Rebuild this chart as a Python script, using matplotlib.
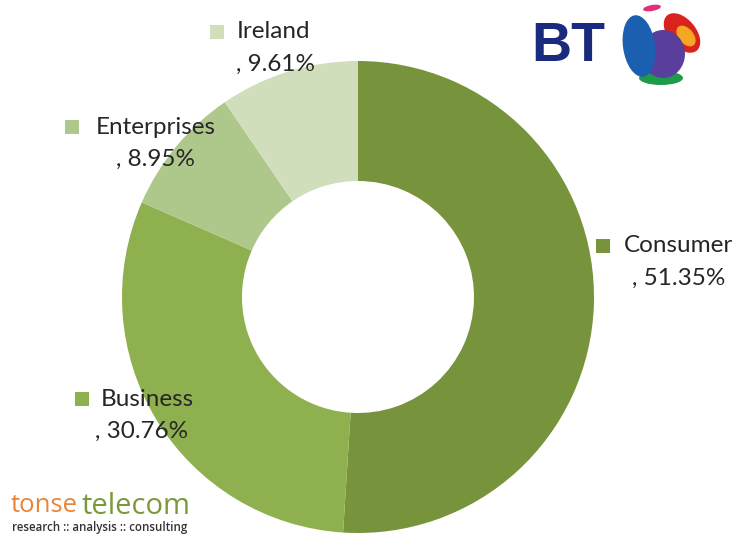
import matplotlib.pyplot as plt
from matplotlib.patches import Rectangle, Ellipse

segments = ['Consumer', 'Business', 'Enterprises', 'Ireland']
shares = [51.35, 30.76, 8.95, 9.61]
colors = ['#77933C', '#8EB04F', '#AEC78A', '#D1DEBB']

# label anchor (pixel coords from top-left): square x, name x, line-1 y, line-2 centre x
label_pos = {
    'Consumer': (603, 624, 246, 679),
    'Business': (82, 101, 399, 142),
    'Enterprises': (72, 96, 127, 156),
    'Ireland': (217, 237, 32, 276),
}

W, H = 736, 537
fig = plt.figure(figsize=(W / 100, H / 100), dpi=100)
ax = fig.add_axes([0, 0, 1, 1])

def py(y):
    return H - y

ax.pie(shares, colors=colors, startangle=90, counterclock=False,
       radius=236, center=(358, py(297)),
       wedgeprops=dict(width=120, linewidth=0))

font = 'Lato'
for name, val, col in zip(segments, shares, colors):
    sx, tx, ty, cx = label_pos[name]
    ax.add_patch(Rectangle((sx - 7, py(ty) - 7), 14, 14, color=col, lw=0))
    ax.text(tx, py(ty), name, fontsize=17.5, family=font, color='#262626',
            va='center', ha='left')
    ax.text(cx, py(ty + 32), ', %.2f%%' % val, fontsize=17.5, family=font,
            color='#262626', va='center', ha='center')

# BT logo
ax.text(531, py(47), 'BT', fontsize=40, fontweight='bold', family='Liberation Sans',
        color='#1A2A7C', va='center', ha='left')
ax.add_patch(Ellipse((682, py(33)), 28, 46, angle=40, color='#D8231E', lw=0))
ax.add_patch(Ellipse((686, py(36)), 15, 24, angle=40, color='#F5A623', lw=0))
ax.add_patch(Ellipse((652, py(8)), 18, 6, angle=10, color='#E0307A', lw=0))
ax.add_patch(Ellipse((661, py(78)), 44, 14, color='#1E9B4A', lw=0))
ax.add_patch(Ellipse((663, py(54)), 44, 48, color='#5A3E9B', lw=0))
ax.add_patch(Ellipse((639, py(46)), 32, 62, angle=8, color='#1B5FB0', lw=0))

# tonse telecom logo
ax.text(11, py(506), 'tonse', fontsize=18.5, family='Open Sans',
        color='#E8843A', va='center', ha='left')
ax.text(81, py(506), 'telecom', fontsize=21, family='Open Sans',
        color='#7A9A3A', va='center', ha='left')
ax.text(12, py(527), 'research :: analysis :: consulting', fontsize=8.3,
        family='Open Sans', fontweight='semibold', color='#333333',
        va='center', ha='left')

ax.set_xlim(0, W)
ax.set_ylim(0, H)
ax.set_aspect('equal')
ax.axis('off')

fig.savefig('out.png', dpi=100)
